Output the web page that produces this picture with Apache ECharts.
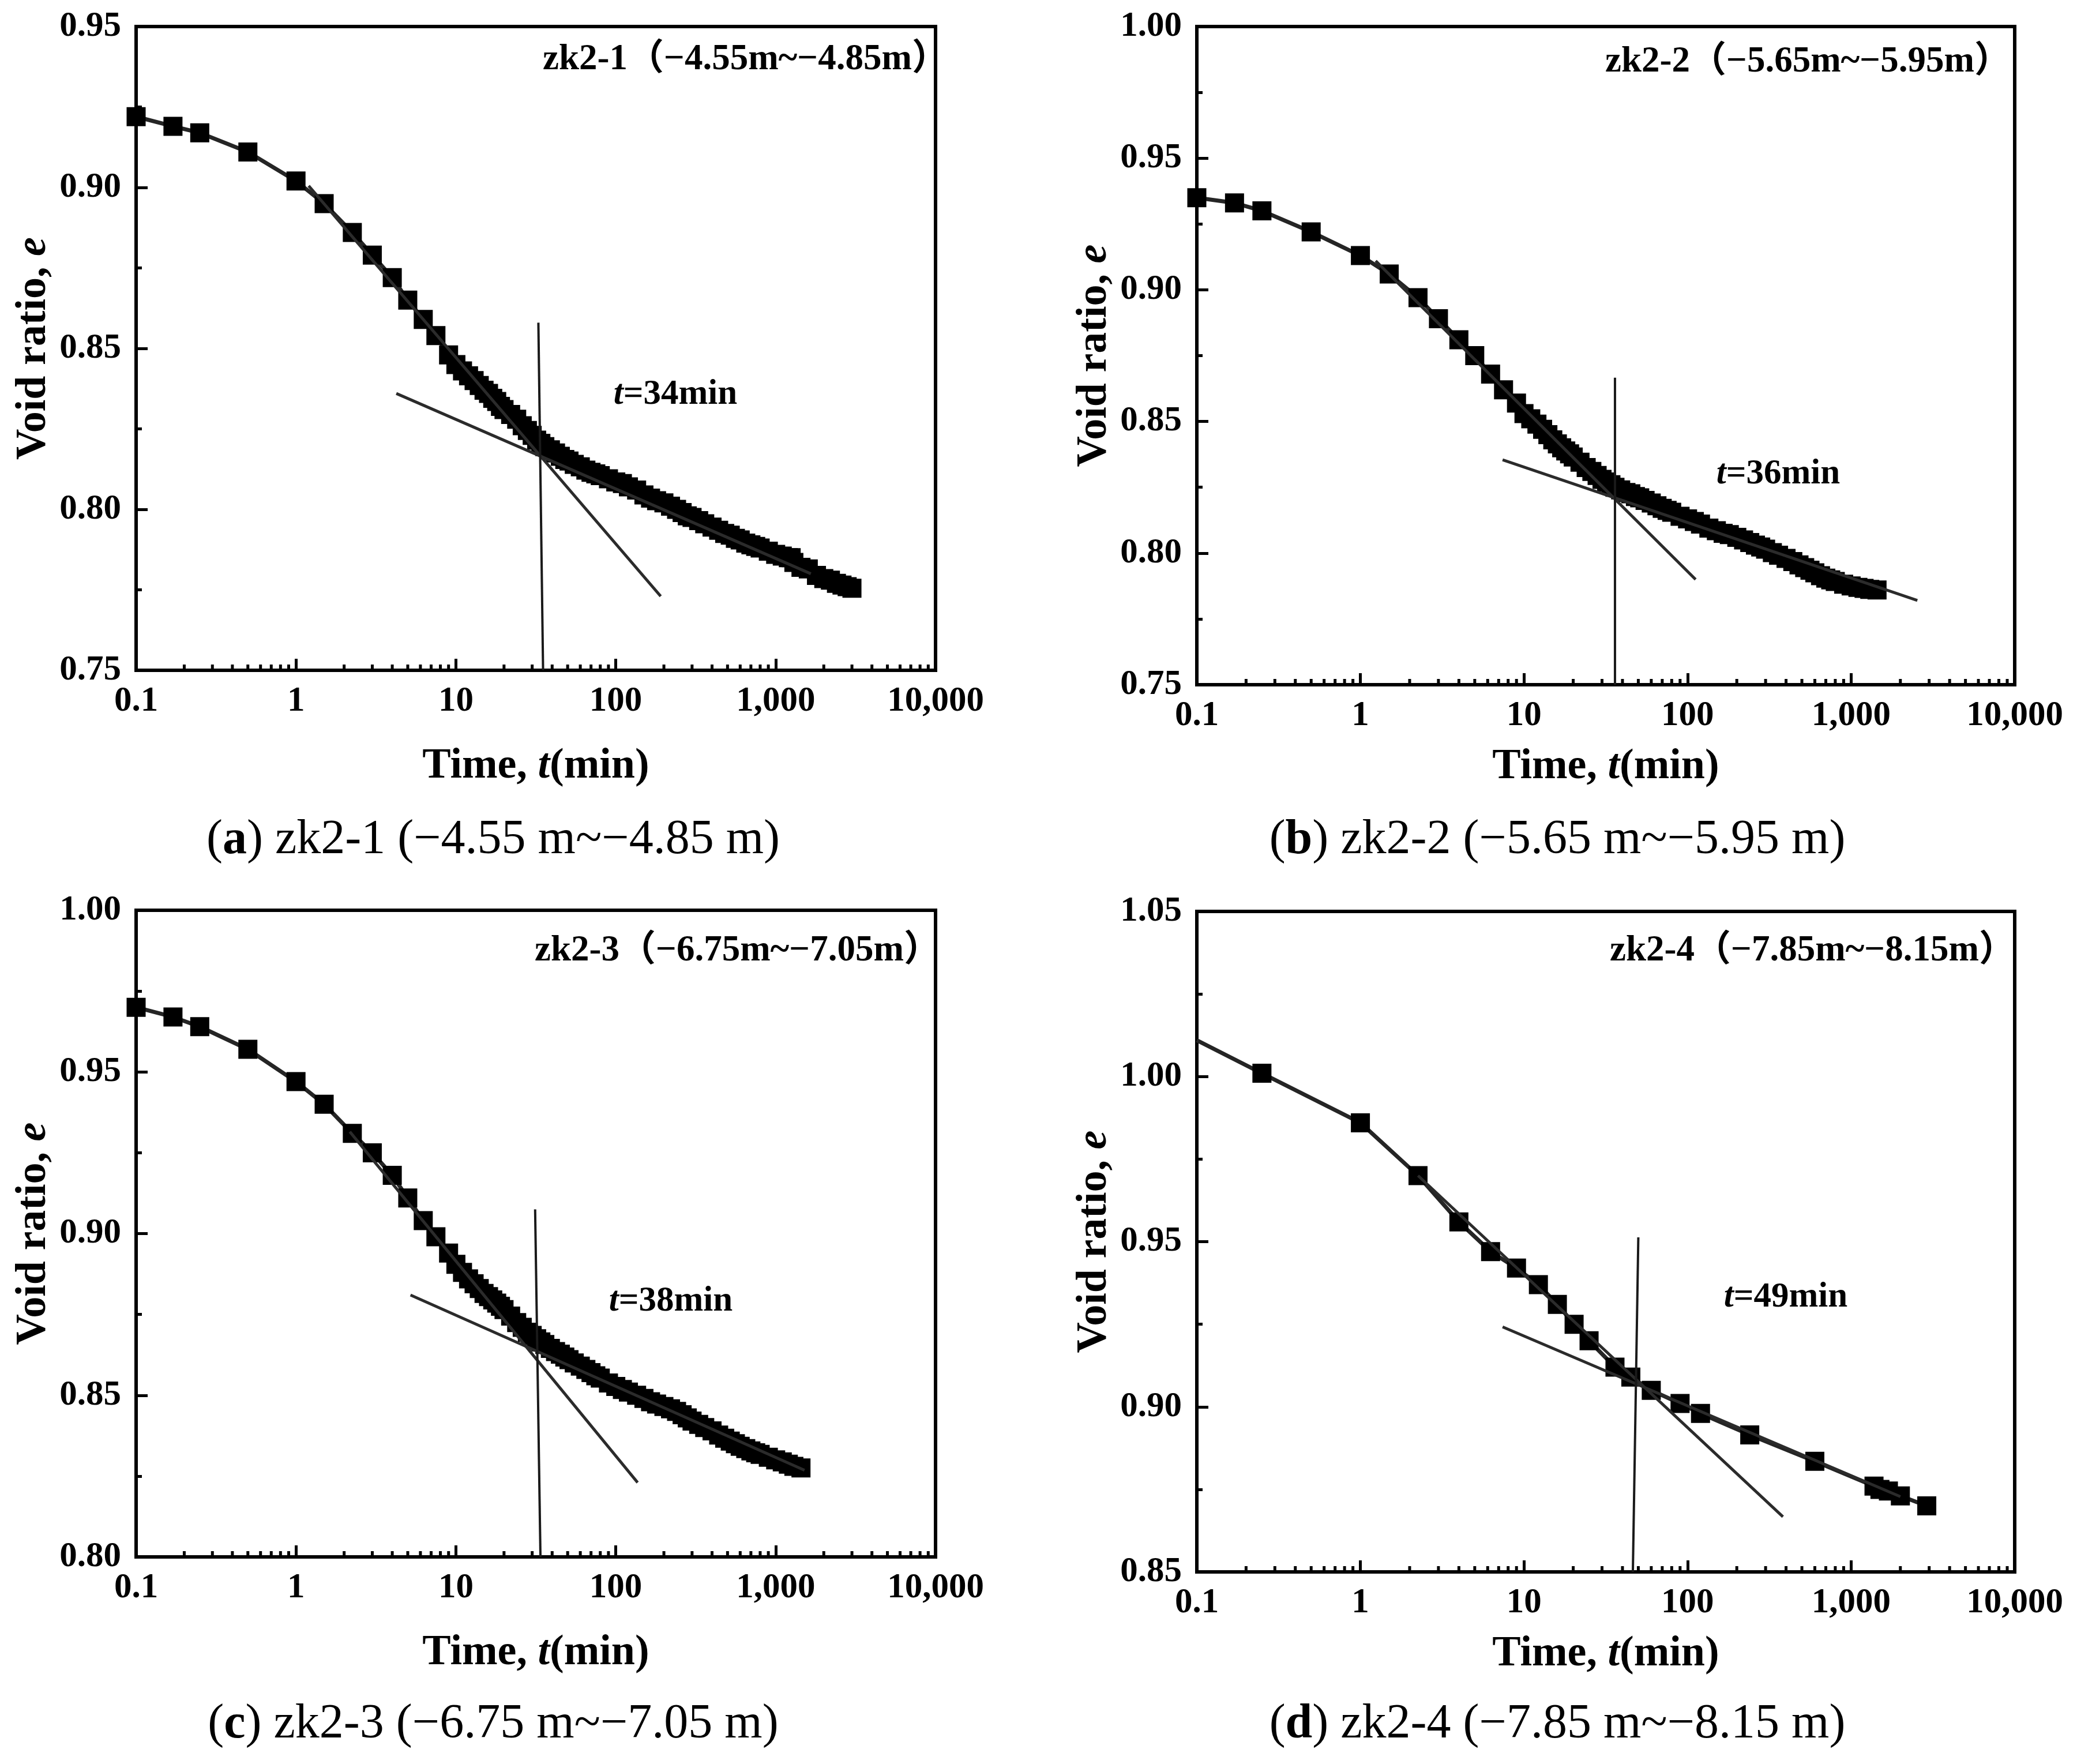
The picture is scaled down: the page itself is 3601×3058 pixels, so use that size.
<!DOCTYPE html>
<html>
<head>
<meta charset="utf-8">
<script src="https://cdn.jsdelivr.net/npm/echarts@6/dist/echarts.min.js"></script>
<style>
html,body{margin:0;padding:0;background:#fff;}
#chart{width:3601px;height:3058px;}
</style>
</head>
<body>
<div id="chart"></div>
<script>
// ---------- data ----------
const xTickLabels = ['0.1','1','10','100','1,000','10,000'];
const minorX = [0.2,0.3,0.4,0.5,0.6,0.7,0.8,0.9,2,3,4,5,6,7,8,9,20,30,40,50,60,70,80,90,200,300,400,500,600,700,800,900,2000,3000,4000,5000,6000,7000,8000,9000];

// (a) zk2-1
const tA = [0.1,0.17,0.25,0.5,1,1.5,2.25,3,4,5,6.25,7.5,9,10,11,12,13,14,15,16,17,18,19,20,22,24,26,28,30,32,34,36,39,42,45,48,51,55,60,65,70,75,80,90,100,110,120,135,150,165,180,200,220,240,260,280,300,330,360,400,440,480,520,560,600,650,700,750,800,900,1000,1100,1200,1250,1300,1440,1600,1800,2000,2200,2400,2600,2800,3000];
const eA = [0.922,0.919,0.917,0.911,0.902,0.895,0.886,0.879,0.872,0.865,0.859,0.854,0.848,0.845,0.843,0.8415,0.840,0.8385,0.837,0.836,0.8345,0.8335,0.832,0.831,0.8295,0.828,0.826,0.8245,0.823,0.8215,0.8205,0.8195,0.8185,0.8175,0.8165,0.8155,0.815,0.814,0.8132,0.8122,0.8115,0.811,0.8105,0.8095,0.8085,0.808,0.807,0.806,0.8045,0.8035,0.8027,0.802,0.801,0.800,0.799,0.798,0.7975,0.7965,0.7955,0.7945,0.7935,0.7925,0.792,0.791,0.7905,0.7895,0.789,0.7885,0.788,0.787,0.786,0.7855,0.785,0.785,0.7835,0.782,0.7815,0.7795,0.7785,0.778,0.777,0.7765,0.776,0.7755];
const steepA = [[1.2,0.9005],[191,0.773]];
const flatA = [[4.24,0.836],[1660,0.780]];
const vertA = [[32.8,0.858],[35.1,0.75]];

// (b) zk2-2
const tB = [0.1,0.17,0.25,0.5,1,1.5,2.25,3,4,5,6.25,7.5,9,10,11,12,13,14,15,16,17,18,19,20,22,24,26,28,30,32,34,36,39,42,45,48,51,55,60,65,70,75,80,90,100,110,120,135,150,165,180,200,220,240,260,280,300,330,360,400,440,480,520,560,600,650,700,750,800,900,1000,1100,1200,1300,1440];
const eB = [0.935,0.933,0.930,0.922,0.913,0.906,0.897,0.889,0.881,0.875,0.868,0.862,0.857,0.853,0.851,0.849,0.847,0.845,0.843,0.8415,0.840,0.8388,0.8377,0.8365,0.8345,0.8325,0.831,0.8295,0.828,0.827,0.826,0.825,0.824,0.823,0.8225,0.8215,0.821,0.820,0.819,0.818,0.817,0.8162,0.8155,0.814,0.813,0.812,0.811,0.8095,0.8085,0.8075,0.807,0.806,0.805,0.804,0.803,0.8023,0.8015,0.8002,0.7992,0.798,0.7968,0.7955,0.7945,0.7935,0.7925,0.7914,0.7905,0.7898,0.7892,0.7882,0.7875,0.787,0.7866,0.7862,0.786];
const steepB = [[1.24,0.911],[112,0.790]];
const flatB = [[7.4,0.8354],[2540,0.782]];
const vertB = [[36,0.8666],[36,0.75]];

// (c) zk2-3
const tC = [0.1,0.17,0.25,0.5,1,1.5,2.25,3,4,5,6.25,7.5,9,10,11,12,13,14,15,16,17,18,19,20,22,24,26,28,30,32,34,36,39,42,45,48,51,55,60,65,70,75,80,90,100,110,120,135,150,165,180,200,220,240,260,280,300,330,360,400,440,480,520,560,600,650,700,750,800,900,1000,1100,1200,1300,1440];
const eC = [0.970,0.967,0.964,0.957,0.947,0.940,0.931,0.925,0.918,0.911,0.904,0.899,0.894,0.8905,0.888,0.886,0.8845,0.883,0.8815,0.8805,0.8795,0.8785,0.8775,0.8765,0.8745,0.8725,0.871,0.8695,0.8685,0.8675,0.8665,0.8657,0.8645,0.8635,0.8627,0.8618,0.861,0.860,0.859,0.858,0.857,0.856,0.8553,0.8538,0.8527,0.8518,0.851,0.850,0.849,0.848,0.8473,0.8465,0.8458,0.845,0.844,0.843,0.842,0.841,0.840,0.839,0.8377,0.8367,0.8358,0.835,0.8342,0.8335,0.8328,0.8322,0.8317,0.8308,0.830,0.8294,0.8287,0.828,0.8275];
const steepC = [[2.17,0.9315],[137,0.823]];
const flatC = [[5.2,0.881],[1515,0.8268]];
const vertC = [[31.3,0.9075],[33.8,0.80]];

// (d) zk2-4
const tD = [0.1,0.25,1,2.25,4,6.25,9,12.25,16,20.25,25,36,45,60,90,120,240,600,1380,1500,1690,2000,2900];
const eD = [1.011,1.001,0.986,0.970,0.956,0.947,0.942,0.937,0.931,0.925,0.920,0.912,0.909,0.905,0.901,0.898,0.8915,0.8835,0.876,0.875,0.8745,0.873,0.870];
const steepD = [[2.25,0.970],[383,0.8667]];
const flatD = [[7.4,0.9242],[2000,0.8728]];
const vertD = [[50,0.9513],[46.3,0.85]];

// ---------- layout ----------
const FONT = "'Liberation Serif','Times New Roman','Noto Sans CJK SC',serif";
const panels = [
  {t:tA, e:eA, steep:steepA, flat:flatA, vert:vertA, yMin:0.75, yMax:0.95,
   grid:{left:236, top:46, width:1386, height:1116}, nameGapX:130, hideFirstSymbol:false},
  {t:tB, e:eB, steep:steepB, flat:flatB, vert:vertB, yMin:0.75, yMax:1.00,
   grid:{left:2075, top:46, width:1418, height:1141}, nameGapX:106, hideFirstSymbol:false},
  {t:tC, e:eC, steep:steepC, flat:flatC, vert:vertC, yMin:0.80, yMax:1.00,
   grid:{left:236, top:1578, width:1386, height:1121}, nameGapX:130, hideFirstSymbol:false},
  {t:tD, e:eD, steep:steepD, flat:flatD, vert:vertD, yMin:0.85, yMax:1.05,
   grid:{left:2075, top:1580, width:1418, height:1145}, nameGapX:106, hideFirstSymbol:true}
];

function fmtX(v){
  if (v < 0.5) return xTickLabels[0];
  return String(Math.round(v)).replace(/\B(?=(\d{3})+(?!\d))/g, ',');
}
const labelStyle = {fontSize:61, fontWeight:'bold', fontFamily:FONT, color:'#000'};
const nameRich = {
  b:{fontSize:74, fontWeight:'bold', fontFamily:FONT, color:'#000'},
  i:{fontSize:74, fontWeight:'bold', fontStyle:'italic', fontFamily:FONT, color:'#000'}
};

const grids = [], xAxes = [], yAxes = [], series = [];
panels.forEach((p, i) => {
  grids.push(Object.assign({show:true, borderColor:'#000', borderWidth:6, backgroundColor:'transparent', containLabel:false, outerBoundsMode:'none'}, p.grid));
  xAxes.push({
    type:'log', logBase:10, gridIndex:i, min:0.1, max:10000,
    axisLine:{show:true, onZero:false, lineStyle:{color:'#000', width:6}},
    axisTick:{show:true, inside:true, length:20, lineStyle:{color:'#000', width:5}},
    minorTick:{show:false}, splitLine:{show:false},
    axisLabel:Object.assign({margin:24, formatter:fmtX, showMinLabel:true, showMaxLabel:true, hideOverlap:false}, labelStyle),
    name:'{b|Time, }{i|t}{b|(min)}', nameLocation:'middle', nameGap:p.nameGapX,
    nameTextStyle:{rich:nameRich}
  });
  yAxes.push({
    type:'value', gridIndex:i, min:p.yMin, max:p.yMax, interval:0.05,
    axisLine:{show:true, onZero:false, lineStyle:{color:'#000', width:6}},
    axisTick:{show:true, inside:true, length:20, lineStyle:{color:'#000', width:5}},
    minorTick:{show:true, splitNumber:2, length:10, lineStyle:{color:'#000', width:5}},
    splitLine:{show:false},
    axisLabel:Object.assign({margin:26, formatter:v => v.toFixed(2), showMinLabel:true, showMaxLabel:true}, labelStyle),
    name:'{b|Void ratio, }{i|e}', nameLocation:'middle', nameGap:140, nameRotate:90,
    nameTextStyle:{rich:nameRich}
  });
  // log minor ticks on x axis
  series.push({
    type:'custom', xAxisIndex:i, yAxisIndex:i, silent:true, clip:false, z:3,
    data: minorX.map(v => [v, p.yMin]),
    renderItem:(params, api) => {
      const c = api.coord([api.value(0), api.value(1)]);
      return {type:'line', shape:{x1:c[0], y1:c[1], x2:c[0], y2:c[1]-10}, style:{stroke:'#000', lineWidth:5}};
    }
  });
  const pts = p.t.map((t, k) => {
    if (k === 0 && p.hideFirstSymbol) return {value:[t, p.e[k]], symbol:'none'};
    return [t, p.e[k]];
  });
  series.push({
    type:'line', xAxisIndex:i, yAxisIndex:i, data:pts, symbol:'rect', symbolSize:33,
    itemStyle:{color:'#000'}, lineStyle:{color:'#252525', width:7}, z:4, silent:true
  });
  [p.steep, p.flat].forEach(seg => series.push({
    type:'line', xAxisIndex:i, yAxisIndex:i, data:seg, symbol:'none',
    lineStyle:{color:'#2b2b2b', width:5}, z:6, silent:true
  }));
  series.push({
    type:'line', xAxisIndex:i, yAxisIndex:i, data:p.vert, symbol:'none',
    lineStyle:{color:'#1a1a1a', width:4}, z:6, silent:true
  });
});

function txt(text, x, y, size, align, rich, weight){
  return {type:'text', z:100, style:{
    text:text, x:x, y:y, fontSize:size, fontFamily:FONT, fontWeight:weight || 'bold',
    fill:'#000', align:align, verticalAlign:'middle', textAlign:align, textVerticalAlign:'middle', rich:rich || {}
  }};
}
const annRich = {i:{fontSize:61, fontWeight:'bold', fontStyle:'italic', fontFamily:FONT, fill:'#000', color:'#000'}};
const capRich = {b:{fontSize:84, fontWeight:'bold', fontFamily:FONT, fill:'#000', color:'#000'}};
const graphics = [
  txt('zk2-1（−4.55m~−4.85m）', 1644, 104, 63, 'right'),
  txt('zk2-2（−5.65m~−5.95m）', 3486, 108, 63, 'right'),
  txt('zk2-3（−6.75m~−7.05m）', 1630, 1649, 63, 'right'),
  txt('zk2-4（−7.85m~−8.15m）', 3494, 1649, 63, 'right'),
  txt('{i|t}=34min', 1171, 684, 61, 'center', annRich),
  txt('{i|t}=36min', 3083, 822, 61, 'center', annRich),
  txt('{i|t}=38min', 1163, 2256, 61, 'center', annRich),
  txt('{i|t}=49min', 3096, 2249, 61, 'center', annRich),
  txt('({b|a}) zk2-1 (−4.55 m~−4.85 m)', 855, 1457, 84, 'center', capRich, 'normal'),
  txt('({b|b}) zk2-2 (−5.65 m~−5.95 m)', 2700, 1457, 84, 'center', capRich, 'normal'),
  txt('({b|c}) zk2-3 (−6.75 m~−7.05 m)', 855, 2990, 84, 'center', capRich, 'normal'),
  txt('({b|d}) zk2-4 (−7.85 m~−8.15 m)', 2700, 2990, 84, 'center', capRich, 'normal')
];

const chart = echarts.init(document.getElementById('chart'), null, {renderer:'canvas'});
chart.setOption({
  backgroundColor:'#fff', animation:false,
  textStyle:{fontFamily:FONT},
  grid:grids, xAxis:xAxes, yAxis:yAxes, series:series, graphic:graphics
});
</script>
</body>
</html>
